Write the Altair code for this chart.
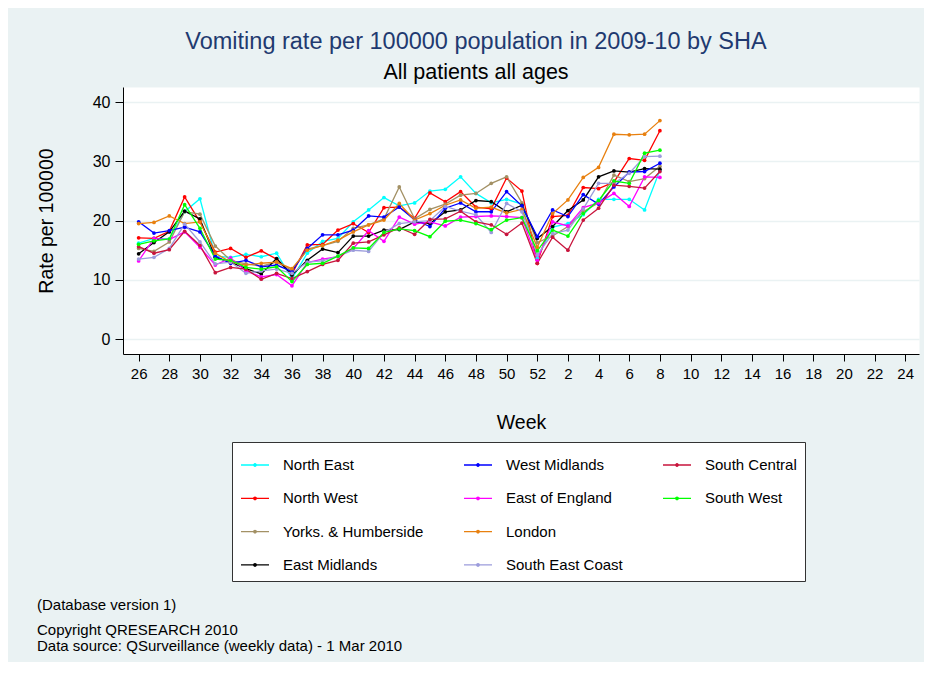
import altair as alt
import pandas as pd

# ---------------- data ----------------
WEEKS = list(range(26, 53)) + list(range(1, 9))
TICK_LABELS = [str(w) for w in list(range(26, 53, 2)) + list(range(2, 25, 2))]

SERIES = ["North East", "North West", "Yorks. & Humberside", "East Midlands",
          "West Midlands", "East of England", "London", "South East Coast",
          "South Central", "South West"]
COLORS = ["#00FFFF", "#FF0000", "#A39165", "#000000", "#0000FF",
          "#FF00FF", "#E8800F", "#9C9CDC", "#C8143C", "#00FF00"]

NORTH_EAST = [16.2, 17.0, 16.9, 21.5, 23.7, 14.0, 13.8, 14.3, 13.9, 14.5, 10.2, 14.5, 16.5, 17.0,
              19.8, 21.8, 23.9, 22.5, 23.0, 25.0, 25.3, 27.4, 24.6, 23.0, 23.6, 22.8, 13.6,
              18.9, 19.5, 21.0, 23.6, 23.6, 23.6, 21.8, 28.5]
NORTH_WEST = [17.1, 17.0, 18.2, 24.0, 19.8, 14.7, 15.3, 13.8, 14.9, 13.5, 11.0, 15.9, 16.0, 18.4,
              19.5, 18.0, 22.2, 22.3, 20.4, 24.7, 23.2, 24.9, 22.3, 22.0, 27.2, 25.0, 12.8,
              20.7, 20.9, 25.6, 25.4, 26.5, 30.5, 30.2, 35.2]
YORKS = [15.3, 14.8, 16.4, 21.5, 21.1, 15.7, 13.3, 12.7, 12.3, 13.0, 11.6, 15.2, 15.8, 16.5,
         18.7, 19.3, 20.3, 25.7, 20.3, 21.9, 22.8, 24.3, 24.6, 26.3, 27.4, 23.0, 16.3,
         17.4, 19.0, 21.5, 23.0, 27.7, 26.6, 27.1, 29.2]
EAST_MIDLANDS = [14.4, 16.3, 18.1, 21.6, 20.3, 13.8, 13.0, 11.9, 11.0, 13.6, 10.8, 13.3, 15.2, 14.6,
                 17.4, 17.4, 18.4, 18.5, 19.8, 19.5, 21.5, 21.8, 23.4, 23.2, 21.5, 22.6, 17.0,
                 19.0, 21.7, 23.5, 27.4, 28.4, 28.2, 28.8, 28.7]
WEST_MIDLANDS = [19.8, 17.9, 18.3, 18.9, 18.1, 14.0, 12.8, 13.3, 12.2, 12.5, 11.4, 15.3, 17.6, 17.6,
                 18.4, 20.8, 20.6, 22.3, 20.1, 19.0, 22.1, 23.0, 21.5, 21.5, 24.9, 22.5, 17.3,
                 21.8, 20.7, 24.4, 22.8, 25.7, 28.2, 28.3, 29.7]
EAST_OF_ENGLAND = [13.2, 17.0, 16.8, 18.1, 15.5, 12.5, 13.7, 11.5, 10.5, 10.9, 9.0, 12.9, 13.5, 13.9,
                   15.3, 18.3, 16.5, 20.6, 19.4, 19.8, 19.1, 20.6, 20.7, 20.8, 20.7, 20.5, 13.3,
                   19.8, 19.1, 22.2, 23.0, 24.6, 22.4, 27.4, 27.3]
LONDON = [19.5, 19.7, 20.8, 19.5, 19.8, 14.5, 13.0, 12.5, 12.8, 13.0, 11.9, 15.0, 15.8, 16.7,
          18.1, 19.3, 20.1, 22.9, 20.1, 21.2, 22.6, 23.5, 22.1, 22.3, 21.3, 21.9, 15.5,
          21.2, 23.5, 27.3, 29.0, 34.6, 34.5, 34.6, 36.9]
SOUTH_EAST_COAST = [13.5, 13.8, 15.3, 19.4, 16.4, 12.7, 13.0, 11.1, 11.5, 11.8, 11.1, 13.0, 13.2, 14.0,
                    15.0, 14.8, 18.0, 19.5, 19.8, 20.0, 22.4, 21.6, 21.0, 18.0, 22.9, 21.5, 14.2,
                    17.8, 18.4, 22.0, 26.3, 26.3, 28.0, 30.8, 30.9]
SOUTH_CENTRAL = [15.6, 14.5, 15.1, 18.2, 15.8, 11.2, 12.1, 11.8, 10.1, 11.1, 10.2, 11.4, 12.6, 13.3,
                 16.2, 16.4, 17.6, 18.8, 17.7, 20.2, 20.3, 21.6, 19.8, 19.3, 17.7, 19.6, 12.8,
                 17.2, 15.0, 20.1, 22.1, 26.0, 25.8, 25.5, 28.3]
SOUTH_WEST = [16.0, 16.6, 16.9, 22.7, 18.7, 13.5, 13.3, 12.1, 11.8, 12.2, 9.7, 12.6, 12.8, 14.0,
              15.4, 15.3, 18.0, 18.6, 18.3, 17.3, 19.9, 20.1, 19.5, 18.5, 20.1, 20.5, 14.9,
              18.4, 17.4, 21.2, 23.4, 26.7, 26.3, 31.4, 31.9]

VALUES = [NORTH_EAST, NORTH_WEST, YORKS, EAST_MIDLANDS, WEST_MIDLANDS,
          EAST_OF_ENGLAND, LONDON, SOUTH_EAST_COAST, SOUTH_CENTRAL, SOUTH_WEST]

TITLE = "Vomiting rate per 100000 population in 2009-10 by SHA"
SUBTITLE = "All patients all ages"
FOOT1 = "(Database version 1)"
FOOT2 = ["Copyright QRESEARCH 2010", "Data source: QSurveillance (weekly data) - 1 Mar 2010"]

# ---------------- build ----------------
rows = []
for k, (name, vals) in enumerate(zip(SERIES, VALUES)):
    for i, (w, v) in enumerate(zip(WEEKS, vals)):
        rows.append({"series": name, "idx": i, "week": w, "rate": v, "k": k})
df = pd.DataFrame(rows)

# a blank, invisible slot at the end keeps the legend's 4-row column layout
legend_domain = SERIES + [" "]
legend_range = COLORS + ["transparent"]

label_expr = "[" + ",".join("'%s'" % t for t in TICK_LABELS) + "][round(datum.value/2)]"

FONT = "Liberation Sans"
BG = "#EAF2F3"

sym = "M-1,0L1,0M-0.09,0A0.09,0.09,0,1,1,0.09,0A0.09,0.09,0,1,1,-0.09,0"

color = alt.Color(
    "series:N",
    scale=alt.Scale(domain=legend_domain, range=legend_range),
    legend=alt.Legend(
        title=None, orient="none", legendX=109, legendY=355, columns=3,
        direction="vertical",
        symbolType=sym, symbolSize=784, symbolStrokeWidth=1.3,
        labelFont=FONT, labelFontSize=15, labelColor="#000000", labelOffset=13,
        columnPadding=37, rowPadding=10.3, padding=8,
        strokeColor="#333333", fillColor="#FFFFFF", labelLimit=300,
    ),
)

x = alt.X(
    "idx:Q",
    scale=alt.Scale(domain=[-1.02, 50.9], nice=False, zero=False),
    axis=alt.Axis(
        values=list(range(0, 51, 2)), labelExpr=label_expr, title="Week",
        grid=False, domainColor="#000000", tickColor="#000000", tickSize=7,
        labelFont=FONT, labelFontSize=15, labelColor="#000000", labelPadding=5,
        titleFont=FONT, titleFontSize=19.5, titleFontWeight="normal",
        titleColor="#000000", titlePadding=32, labelFlush=False,
    ),
)
y = alt.Y(
    "rate:Q",
    scale=alt.Scale(domain=[-2.53, 42.58], nice=False, zero=False),
    axis=alt.Axis(
        values=[0, 10, 20, 30, 40], title="Rate per 100000",
        grid=True, gridColor=BG, gridWidth=1.6,
        domainColor="#000000", tickColor="#000000", tickSize=8,
        labelFont=FONT, labelFontSize=16, labelColor="#000000", labelPadding=5,
        titleFont=FONT, titleFontSize=19.5, titleFontWeight="normal",
        titleColor="#000000", titlePadding=36, labelFlush=False,
    ),
)

base = alt.Chart(df)
lines = base.mark_line(strokeWidth=1.3).encode(x=x, y=y, color=color, order="idx:Q", detail="series:N")
points = base.mark_circle(size=14, opacity=1).encode(x=x, y=y, color=color)

foot1 = alt.Chart(pd.DataFrame({"t": [FOOT1]})).mark_text(
    align="left", baseline="middle", font=FONT, fontSize=15, color="#000000"
).encode(text="t:N", x=alt.value(-86), y=alt.value(518))

foot2 = alt.Chart(pd.DataFrame({"id": [0]})).mark_text(
    align="left", baseline="middle", font=FONT, fontSize=15, color="#000000",
    lineHeight=15.5, text=FOOT2,
).encode(x=alt.value(-86), y=alt.value(543))

chart = alt.layer(
    lines, points, foot1, foot2,
).properties(
    width=796, height=267,
    padding={"left": 115, "top": 79, "right": 5, "bottom": 308},
    autosize=alt.AutoSizeParams(type="none"),
    title=alt.TitleParams(
        text=TITLE, subtitle=SUBTITLE, anchor="middle", dx=-45,
        font=FONT, fontSize=23.5, fontWeight="normal", color="#1F3A70",
        subtitleFont=FONT, subtitleFontSize=21.5, subtitleColor="#000000",
        subtitlePadding=8, offset=4,
    ),
).configure(background=BG).configure_view(fill="#FFFFFF", stroke="transparent")

chart.save("out.html", embed_options={"renderer": "svg", "actions": False})
